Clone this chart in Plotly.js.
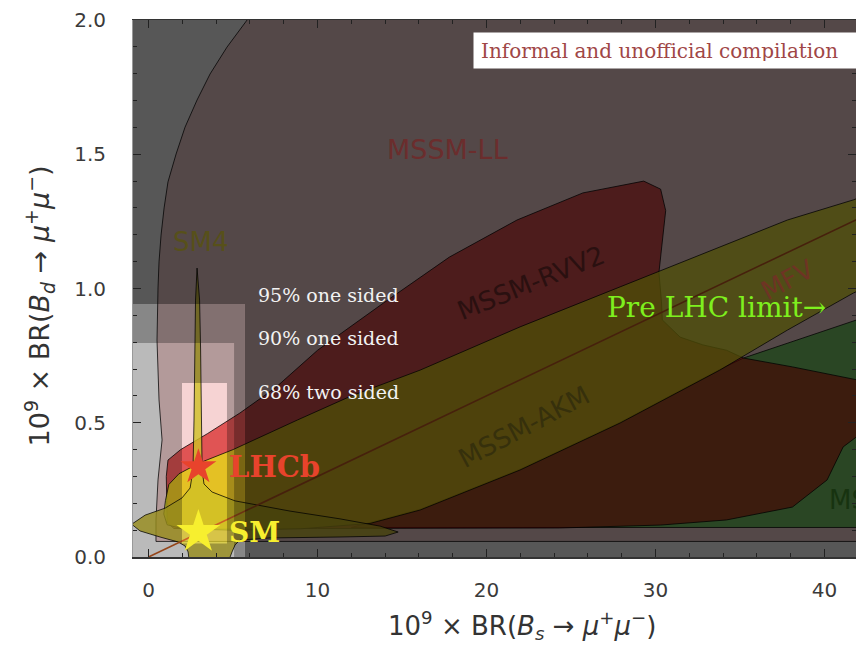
<!DOCTYPE html>
<html><head><meta charset="utf-8">
<script src="https://cdn.plot.ly/plotly-3.0.1.min.js"></script>
<style>html,body{margin:0;padding:0;background:#fff}</style>
</head><body><div id="chart" style="width:856px;height:647px"></div>
<script>
// ---- model regions: 1e9*BR(Bs->mumu) (x) vs 1e9*BR(Bd->mumu) (y) ----
const mssmLL_x = [5.83,4.64,3.64,2.87,2.16,1.63,1.15,0.92,0.74,0.62,0.56,0.50,0.62,0.80,0.56,0.44,0.44,43,43,5.83];
const mssmLL_y = [2.0,1.899,1.799,1.702,1.601,1.501,1.397,1.30,1.199,1.099,1.002,0.808,0.585,0.436,0.287,0.138,0.058,0.058,2.05,2.05];

const mssmAC_x = [35.2,38.5,41.9,43,43,12.0,13.1,16.07,21.98,27.9,33.8,35.2];
const mssmAC_y = [0.741,0.81,0.883,0.90,0.11,0.11,0.128,0.178,0.327,0.502,0.699,0.741];

const mssmRVV2_x = [1.1,1.05,1.15,1.9,3.5,5.4,7.5,10.0,13.9,17.8,21.8,25.7,29.3,30.3,30.6,30.3,30.2,30.35,30.4,31.45,32.8,34.2,35.2,38.1,41.9,43,43,41.1,40.15,38.1,34.2,30.3,24.3,10.0,1.5,1.1];
const mssmRVV2_y = [0.13,0.30,0.361,0.40,0.46,0.536,0.63,0.77,0.946,1.117,1.255,1.356,1.40,1.37,1.29,1.10,1.06,0.95,0.883,0.819,0.79,0.77,0.741,0.708,0.66,0.60,0.50,0.41,0.287,0.186,0.138,0.119,0.108,0.106,0.106,0.13];

const mssmAKM_x = [0.9,1.0,1.2,1.8,3.0,5.0,8.8,12.0,16.07,21.98,27.9,33.8,37.8,41.7,43,43,41.7,37.8,33.8,27.9,21.98,16.07,13.1,9.0,5.0,2.0,1.1,0.9];
const mssmAKM_y = [0.16,0.21,0.27,0.31,0.35,0.40,0.51,0.60,0.696,0.857,1.006,1.155,1.255,1.33,1.36,1.02,0.983,0.845,0.696,0.499,0.324,0.175,0.125,0.105,0.10,0.105,0.12,0.16];

const sm4_x = [2.87,3.02,3.08,3.11,3.17,3.28,3.76,5.12,8.37,11.33,13.7,14.77,14.0,11.33,7.19,5.41,5.12,4.94,4.76,2.4,2.34,2.16,1.75,0.68,-0.5,-1.0,-0.2,0.98,1.98,2.46,2.63,2.69,2.75,2.78,2.87];
const sm4_y = [1.076,0.957,0.771,0.51,0.324,0.272,0.242,0.209,0.171,0.142,0.115,0.093,0.078,0.0745,0.071,0.063,0.045,0.019,-0.011,-0.011,0.019,0.041,0.056,0.0745,0.097,0.122,0.156,0.182,0.22,0.257,0.324,0.51,0.771,0.957,1.076];

// MFV line: BR(Bd)/BR(Bs) fixed
const mfv_x = [0, 43];
const mfv_y = [0, 1.29];

// LHCb limits (one-sided 95%, 90%; two-sided 68%)
const clLabels = ['95% one sided', '90% one sided', '68% two sided'];
const clBsLow  = [null, null, 1.98];
const clBsHigh = [5.7, 5.06, 4.64];
const clBdLow  = [null, null, 0.05];
const clBdHigh = [0.942, 0.797, 0.648];

// points
const pointNames = ['LHCb', 'SM'];
const pointBs = [2.95, 2.95];
const pointBd = [0.335, 0.093];

const xRange = [-0.92, 41.86];
const yRange = [0, 2];
const L = -3, R = 46, B = -0.2, T = 2.3;

function region(x, y, fill) {
  return {type:'scatter', mode:'lines', x:x, y:y, fill:'toself', fillcolor:fill,
    line:{color:'rgba(0,0,0,0.75)', width:1}, hoverinfo:'skip', showlegend:false};
}
function shade(x, y, a) {
  return {type:'scatter', mode:'lines', x:x, y:y, fill:'toself', fillcolor:'rgba(0,0,0,'+a+')',
    line:{width:0, color:'rgba(0,0,0,0)'}, hoverinfo:'skip', showlegend:false};
}

const traces = [
  region(mssmLL_x, mssmLL_y, 'rgba(225,110,110,0.3)'),
  region(mssmAC_x, mssmAC_y, 'rgba(0,200,0,0.5)'),
  region(mssmRVV2_x, mssmRVV2_y, 'rgba(210,0,0,0.6)'),
  region(mssmAKM_x, mssmAKM_y, 'rgba(230,230,20,0.75)'),
  region(sm4_x, sm4_y, 'rgba(208,192,38,0.8)'),
  {type:'scatter', mode:'lines', x:mfv_x, y:mfv_y, line:{color:'rgb(205,95,35)', width:1.6}, hoverinfo:'skip', showlegend:false},
  // darkening outside the LHCb limits
  shade([L,clBsHigh[0],clBsHigh[0],R,R,L],[clBdHigh[0],clBdHigh[0],B,B,T,T],0.66),
  shade([L,clBsHigh[1],clBsHigh[1],clBsHigh[0],clBsHigh[0],L],[clBdHigh[1],clBdHigh[1],B,B,clBdHigh[0],clBdHigh[0]],0.47),
  shade([L,clBsLow[2],clBsLow[2],clBsHigh[2],clBsHigh[2],clBsHigh[1],clBsHigh[1],L],[B,B,clBdHigh[2],clBdHigh[2],B,B,clBdHigh[1],clBdHigh[1]],0.27),
  shade([clBsLow[2],clBsHigh[2],clBsHigh[2],clBsLow[2]],[B,B,clBdLow[2],clBdLow[2]],0.27),
  {type:'scatter', mode:'markers', x:[pointBs[0]], y:[pointBd[0]], marker:{symbol:'star', size:27, color:'#e8432c', line:{width:0}}, hoverinfo:'skip', showlegend:false},
  {type:'scatter', mode:'markers', x:[pointBs[1]], y:[pointBd[1]], marker:{symbol:'star', size:33, color:'#f7ef2f', line:{width:0}}, hoverinfo:'skip', showlegend:false}
];

const serif = 'DejaVu Serif, serif';
const sans = 'DejaVu Sans, sans-serif';
const ann = [
  {x:17.66, y:1.516, text:'MSSM-LL', font:{family:sans, size:27, color:'#6b2d2d'}},
  {x:3.05, y:1.173, text:'SM4', font:{family:sans, size:26, color:'#57501a'}},
  {x:22.6, y:1.02, text:'MSSM-RVV2', textangle:-22, font:{family:sans, size:26, color:'#2a1010'}},
  {x:37.8, y:1.03, text:'MFV', textangle:-28, font:{family:sans, size:26, color:'#6e3424'}},
  {x:22.2, y:0.485, text:'MSSM-AKM', textangle:-28, font:{family:sans, size:26, color:'#36300c'}},
  {x:40.15, y:0.212, text:'MSSM-AC', xanchor:'left', font:{family:sans, size:26, color:'#173310'}},
  {x:6.36, y:0.976, text:clLabels[0], xanchor:'left', font:{family:serif, size:19, color:'#f2f2f2'}},
  {x:6.36, y:0.816, text:clLabels[1], xanchor:'left', font:{family:serif, size:19, color:'#f2f2f2'}},
  {x:6.36, y:0.615, text:clLabels[2], xanchor:'left', font:{family:serif, size:19, color:'#f2f2f2'}},
  {x:4.64, y:pointBd[0], text:'<b>'+pointNames[0]+'</b>', xanchor:'left', font:{family:serif, size:29, color:'#e8432c'}},
  {x:4.64, y:pointBd[1], text:'<b>'+pointNames[1]+'</b>', xanchor:'left', font:{family:serif, size:28, color:'#f7ef2f'}},
  {x:27.0, y:0.931, text:'Pre LHC limit→', xanchor:'left', font:{family:serif, size:28, color:'#7ef01e'}},
  {x:19.2, y:1.888, text:'Informal and unofficial compilation', xanchor:'left', align:'left', width:400, height:21, bgcolor:'#ffffff', borderpad:7, font:{family:serif, size:20, color:'#a04646'}}
].map(a => Object.assign({xref:'x', yref:'y', showarrow:false}, a));

const mathTitleX = '10<sup>9</sup> × BR(<i>B</i><sub><i>s</i></sub> → <i>μ</i><sup>+</sup><i>μ</i><sup>−</sup>)';
const mathTitleY = '10<sup>9</sup> × BR(<i>B</i><sub><i>d</i></sub> → <i>μ</i><sup>+</sup><i>μ</i><sup>−</sup>)';
ann.push({xref:'paper', yref:'paper', x:0.538, y:-0.128, xanchor:'center', yanchor:'middle', showarrow:false,
  text:mathTitleX, font:{family:sans, size:26, color:'#333'}});
ann.push({xref:'paper', yref:'paper', x:-0.129, y:0.468, xanchor:'center', yanchor:'middle', showarrow:false, textangle:-90,
  text:mathTitleY, font:{family:sans, size:27, color:'#333'}});

const layout = {
  width:856, height:647,
  margin:{l:133, r:0, t:20, b:90},
  paper_bgcolor:'#ffffff', plot_bgcolor:'#ffffff',
  showlegend:false,
  xaxis:{range:xRange, tick0:0, dtick:10, ticks:'inside', ticklen:8, tickwidth:1, tickcolor:'#222',
    minor:{dtick:2, ticks:'inside', ticklen:4, tickcolor:'#222'},
    showgrid:false, zeroline:false, showline:true, linecolor:'#333', linewidth:1.5, mirror:'allticks',
    ticklabelstandoff:14,
    tickfont:{family:sans, size:20, color:'#3a3a3a'}},
  yaxis:{range:yRange, tick0:0, dtick:0.5, tickformat:'.1f', ticks:'inside', ticklen:8, tickwidth:1, tickcolor:'#222',
    minor:{dtick:0.1, ticks:'inside', ticklen:4, tickcolor:'#222'},
    showgrid:false, zeroline:false, showline:true, linecolor:'#999', linewidth:1, mirror:'allticks',
    ticklabelstandoff:22,
    tickfont:{family:sans, size:20, color:'#3a3a3a'}},
  annotations:ann
};

Plotly.newPlot('chart', traces, layout, {displayModeBar:false, staticPlot:true});
</script>
</body></html>
